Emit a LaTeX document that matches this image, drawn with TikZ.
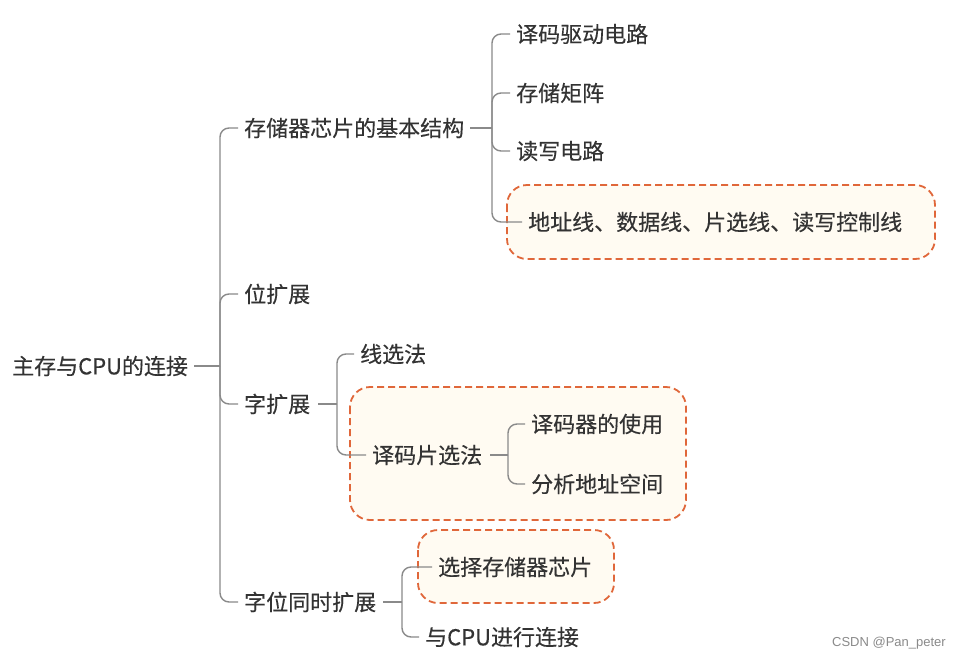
\documentclass[tikz,border=0pt]{standalone}
\usepackage{fontspec}
\setmainfont[FakeBold=0.3]{Noto Sans CJK SC}
\newfontfamily\wmfont{Liberation Sans}
\definecolor{txt}{HTML}{333333}
\definecolor{ln}{HTML}{8A8A8A}
\definecolor{hl}{HTML}{E0673A}
\definecolor{hlfill}{HTML}{FFFBF2}
\begin{document}
\begin{tikzpicture}[x=1pt,y=-1pt,
 lbl/.style={anchor=west,inner sep=0pt,text=txt,font=\fontsize{22}{26}\selectfont},
 conn/.style={draw=ln,line width=1.4pt,rounded corners=9pt},
 hlbox/.style={draw=hl,fill=hlfill,line width=1.8pt,dash pattern=on 7pt off 4pt,rounded corners=20pt}]
\useasboundingbox (0,0) rectangle (954,659);
\fill[white] (0,0) rectangle (954,659);
% highlight boxes
\draw[hlbox] (507,185) rectangle (935,259);
\draw[hlbox] (350,387) rectangle (686,520);
\draw[hlbox] (418,530) rectangle (614,603);
% nodes
\node[lbl] (root) at (12,366) {主存与CPU的连接};
\node[lbl] (a) at (244,128) {存储器芯片的基本结构};
\node[lbl] (b) at (244,294) {位扩展};
\node[lbl] (c) at (244,404) {字扩展};
\node[lbl] (d) at (244,602) {字位同时扩展};
\node[lbl] (a1) at (516,34) {译码驱动电路};
\node[lbl] (a2) at (516,93) {存储矩阵};
\node[lbl] (a3) at (516,151) {读写电路};
\node[lbl] (a4) at (528,222) {地址线、数据线、片选线、读写控制线};
\node[lbl] (c1) at (360,354) {线选法};
\node[lbl] (c2) at (372,455) {译码片选法};
\node[lbl] (c21) at (531,424) {译码器的使用};
\node[lbl] (c22) at (531,484) {分析地址空间};
\node[lbl] (d1) at (438,567) {选择存储器芯片};
\node[lbl] (d2) at (425,637) {与CPU进行连接};
\node[anchor=east,inner sep=0pt,text=ln,font=\wmfont\fontsize{13}{15}\selectfont] (wm) at (946,643) {CSDN @Pan\_peter};
% junctions
\coordinate (rj) at (220,366);
\coordinate (aj) at (492,128);
\coordinate (cj) at (337,404);
\coordinate (c2j) at (508,455);
\coordinate (dj) at (402,602);
% connectors
\draw[conn] ([xshift=6pt]root.east) -- (rj);
\draw[conn] (rj) |- ([xshift=-6pt]a.west);
\draw[conn] (rj) |- ([xshift=-6pt]b.west);
\draw[conn] (rj) |- ([xshift=-6pt]c.west);
\draw[conn] (rj) |- ([xshift=-6pt]d.west);
\draw[conn] ([xshift=6pt]a.east) -- (aj);
\draw[conn] (aj) |- ([xshift=-6pt]a1.west);
\draw[conn] (aj) |- ([xshift=-6pt]a2.west);
\draw[conn] (aj) |- ([xshift=-6pt]a3.west);
\draw[conn] (aj) |- ([xshift=-6pt]a4.west);
\draw[conn] ([xshift=8pt]c.east) -- (cj);
\draw[conn] (cj) |- ([xshift=-6pt]c1.west);
\draw[conn] (cj) |- ([xshift=-6pt]c2.west);
\draw[conn] ([xshift=8pt]c2.east) -- (c2j);
\draw[conn] (c2j) |- ([xshift=-6pt]c21.west);
\draw[conn] (c2j) |- ([xshift=-6pt]c22.west);
\draw[conn] ([xshift=7pt]d.east) -- (dj);
\draw[conn] (dj) |- ([xshift=-6pt]d1.west);
\draw[conn] (dj) |- ([xshift=-6pt]d2.west);
\end{tikzpicture}
\end{document}
